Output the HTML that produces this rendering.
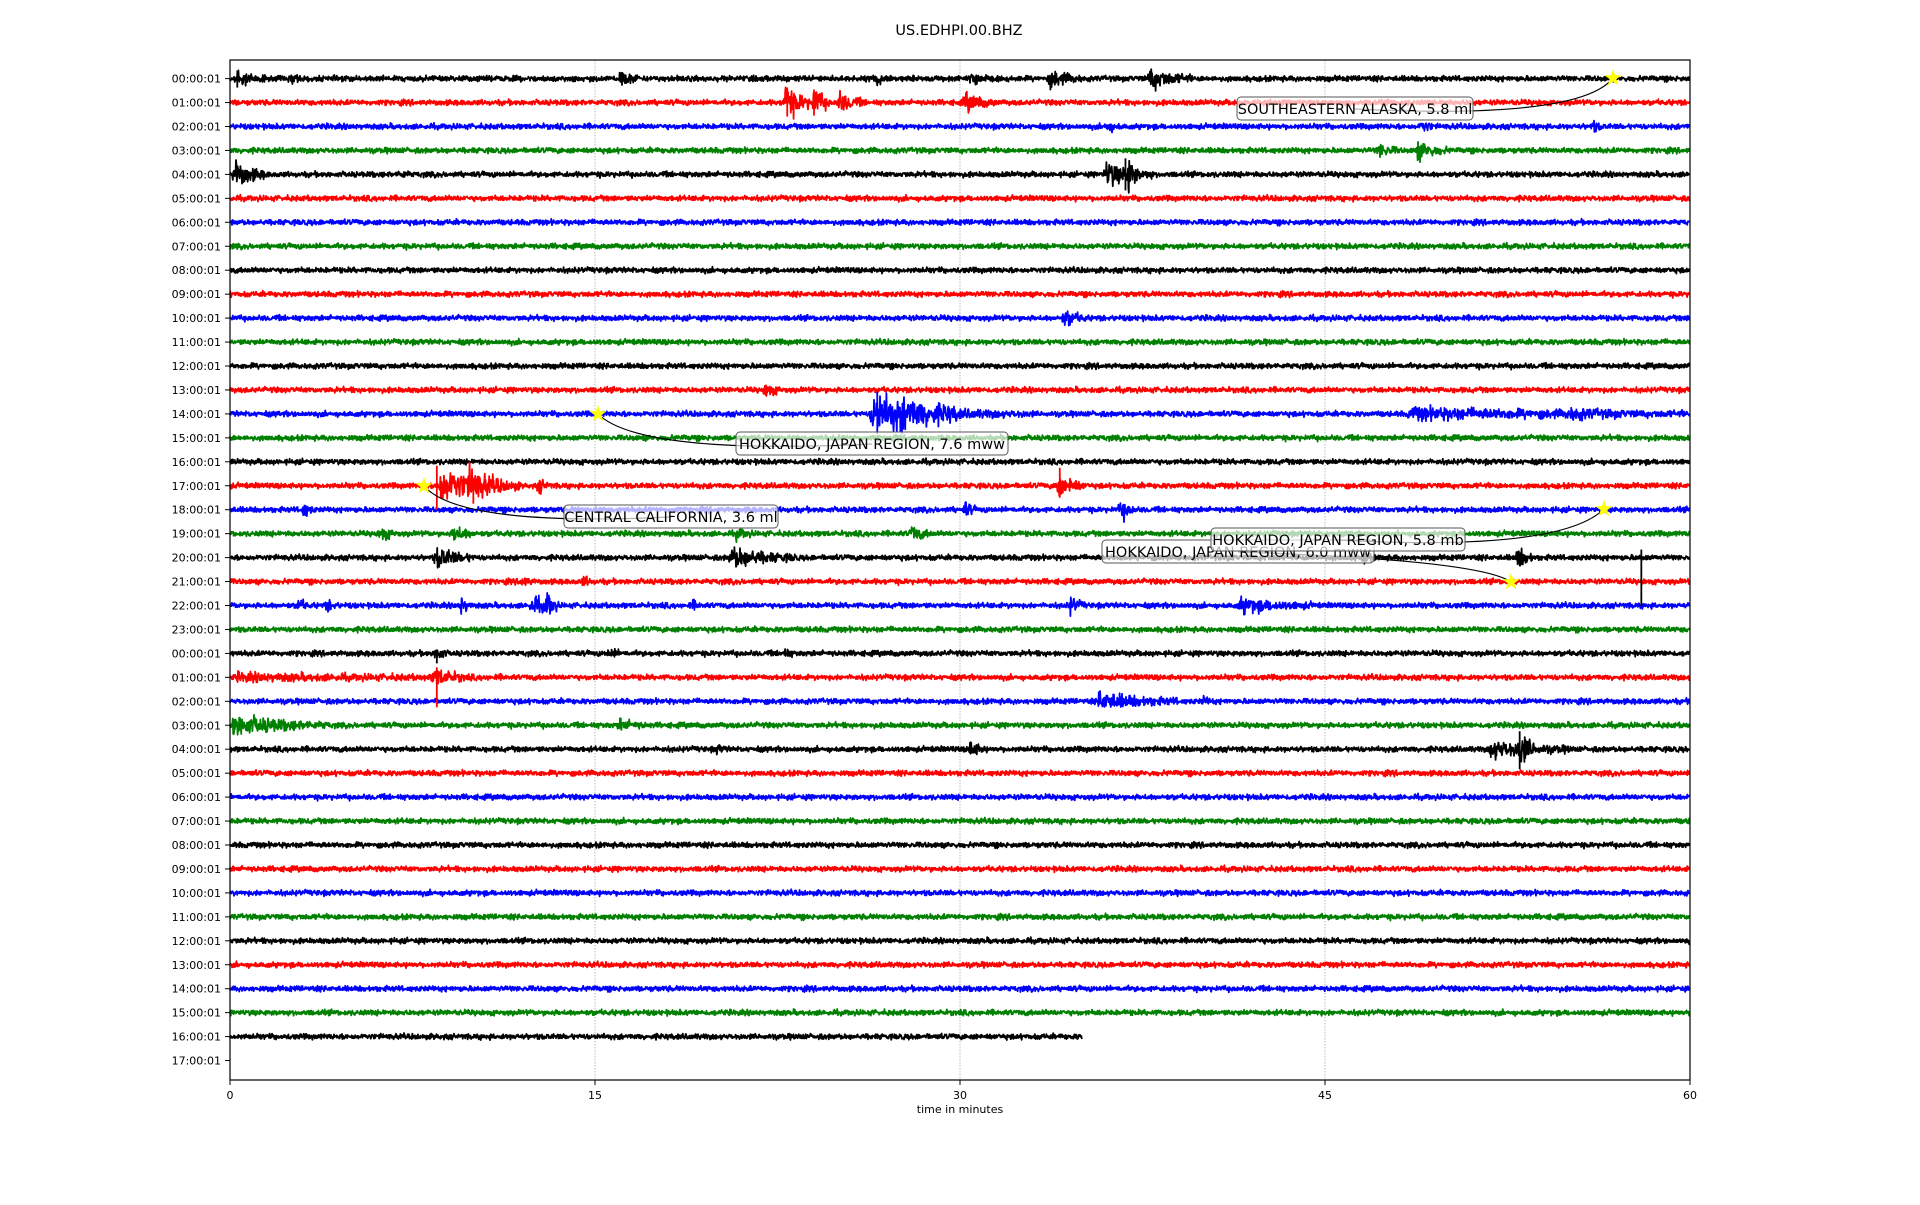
<!DOCTYPE html>
<html><head><meta charset="utf-8"><style>
html,body{margin:0;padding:0;background:#fff;}
svg text{font-family:"DejaVu Sans","Liberation Sans",sans-serif;}
</style></head><body>
<svg id="s" width="1920" height="1200" xmlns="http://www.w3.org/2000/svg">
<rect width="1920" height="1200" fill="#fff"/>
<text x="959" y="35" font-size="14.5" text-anchor="middle">US.EDHPI.00.BHZ</text>
<g id="grid"></g>
<g id="tr"></g>
<g id="ann"></g>
<rect x="230" y="60" width="1460" height="1020" fill="none" stroke="#000" stroke-width="1.2"/>
<g id="ticks" font-size="11"></g>
<text x="960" y="1113" font-size="11" text-anchor="middle">time in minutes</text>
</svg>
<script>
var NS="http://www.w3.org/2000/svg";
function el(t,a,p,txt){var e=document.createElementNS(NS,t);for(var k in a)e.setAttribute(k,a[k]);if(txt!=null)e.textContent=txt;document.getElementById(p).appendChild(e);return e;}
var X0=230,PX=1460/60,Y0=78.6,DY=23.95;
function X(m){return X0+m*PX;}
var seed=12345;function rnd(){seed=(seed*1103515245+12345)%2147483648;return seed/2147483648;}
function g(){return (rnd()+rnd()+rnd()-1.5)*1.6;}
[15,30,45].forEach(function(m){el("line",{x1:X(m),x2:X(m),y1:60,y2:1080,stroke:"#aaa","stroke-width":0.8,"stroke-dasharray":"1.5,1.5"},"grid");});
[0,15,30,45,60].forEach(function(m){el("line",{x1:X(m),x2:X(m),y1:1080,y2:1085,stroke:"#000"},"ticks");el("text",{x:X(m),y:1099,"text-anchor":"middle"},"ticks",String(m));});
var cols=["#000","#f00","#00f","#008000"];
for(var r=0;r<42;r++){var y=Y0+r*DY;var h=(r%24);var lab=(h<10?"0":"")+h+":00:01";
el("line",{x1:225,x2:230,y1:y,y2:y,stroke:"#000"},"ticks");el("text",{x:221,y:y+4,"text-anchor":"end"},"ticks",lab);}
var B={0:[[0.2,0.6,5],[2.5,0.2,3],[16,0.4,4],[26.5,0.3,4],[30.5,0.3,5],[33.7,0.6,5],[37.8,0.8,6]],
1:[[22.8,0.6,10],[24,0.3,10],[25,0.5,6],[30.2,0.6,5]],
2:[[36,0.3,3],[49,0.2,4],[56,0.2,3]],
3:[[47.2,0.4,4],[48.8,0.6,5]],
4:[[0.2,0.6,8],[7,0.2,2],[36,0.9,7],[36.9,0.2,10]],
10:[[34.3,0.4,5]],13:[[22,0.3,4]],
14:[[26.4,1.6,13],[27.5,2.5,4],[48.5,6,3],[55,1,2]],
17:[[8.6,1.5,11],[9.8,0.6,6],[34,0.2,10],[34.5,0.3,5],[12.7,0.2,4]],
18:[[3,0.2,5],[30.2,0.2,5],[36.6,0.3,6]],
19:[[6.2,0.3,4],[9.2,0.4,5],[28,0.4,4],[20.8,0.3,3]],
20:[[8.5,0.7,6],[20.6,1.2,6],[52.9,0.3,7],[46.6,0.2,2]],
21:[[12,0.2,3],[14.5,0.2,3]],
22:[[2.8,0.2,4],[4,0.2,3],[9.5,0.2,5],[12.4,0.5,5],[13,0.2,7],[34.5,0.3,5],[41.5,1.4,4],[19,0.2,2]],
24:[[8.5,0.2,5],[15.6,0.2,3],[22.7,0.2,3]],
25:[[0.3,5,1.5],[8.4,0.6,5]],
26:[[35.7,1.5,5],[40,0.2,2]],
27:[[0.1,1.8,6],[16,0.5,3]],
28:[[20,0.2,2],[30.4,0.3,5],[51.8,1.5,5],[53,0.3,9]]};
var spikes=[[0,0.3,-8,9],[1,22.9,-15,14],[1,24,-13,13],[14,26.6,-22,20],[17,8.5,-20,24],[17,10,-8,18],[17,34.1,-18,12],[28,53,-18,20],[24,8.5,-4,10],[25,8.5,-10,30],[20,58,-8,48],[4,36.8,-16,16]];
for(var r=0;r<41;r++){var y=Y0+r*DY;var end=(r==40)?35:60;var pts=[];var n=Math.round(end*PX);
var bl=B[r]||[];
for(var i=0;i<=n;i+=0.4){var m=i/PX;var a=1.6;
for(var j=0;j<bl.length;j++){var b=bl[j];var d=m-b[0];if(d>-0.1&&d<b[1]*2.2){a+=b[2]*Math.exp(-Math.max(d,0)/b[1])*(d<0?0.3:1);}}
pts.push((X0+i).toFixed(1)+","+(y+g()*a).toFixed(1));}
el("polyline",{points:pts.join(" "),fill:"none",stroke:cols[r%4],"stroke-width":1.8,"stroke-linejoin":"round"},"tr");}
spikes.forEach(function(s){var y=Y0+s[0]*DY;el("line",{x1:X(s[1]),x2:X(s[1]),y1:y+s[2],y2:y+s[3],stroke:cols[s[0]%4],"stroke-width":1.8},"tr");});
function star(cx,cy){var p=[];for(var k=0;k<10;k++){var rr=k%2?3.6:9,an=-Math.PI/2+k*Math.PI/5;p.push((cx+rr*Math.cos(an)).toFixed(1)+","+(cy+rr*Math.sin(an)).toFixed(1));}
el("polygon",{points:p.join(" "),fill:"#ff0"},"ann");}
function ann(sx,sy,tx,ty,txt,w,cp){
el("path",{d:"M"+sx+","+sy+" Q"+cp[0]+","+cp[1]+" "+(tx)+","+(ty),fill:"none",stroke:"#000","stroke-width":1.2},"ann");
star(sx,sy);
el("rect",{x:tx-w/2,y:ty-12,width:w,height:23,rx:4,fill:"rgba(255,255,255,0.7)",stroke:"#555","stroke-width":1},"ann");
el("text",{x:tx,y:ty+5,"text-anchor":"middle","font-size":14.5},"ann",txt);}
ann(1613,78,1355,109,"SOUTHEASTERN ALASKA, 5.8 ml",236,[1580,120]);
ann(598,414,872,444,"HOKKAIDO, JAPAN REGION, 7.6 mww",272,[640,455]);
ann(424,486,671,517,"CENTRAL CALIFORNIA, 3.6 ml",214,[460,527]);
ann(1511,582,1238,552,"HOKKAIDO, JAPAN REGION, 6.0 mww",272,[1480,560]);
ann(1604,509,1338,540,"HOKKAIDO, JAPAN REGION, 5.8 mb",254,[1560,552]);
</script>
</body></html>
